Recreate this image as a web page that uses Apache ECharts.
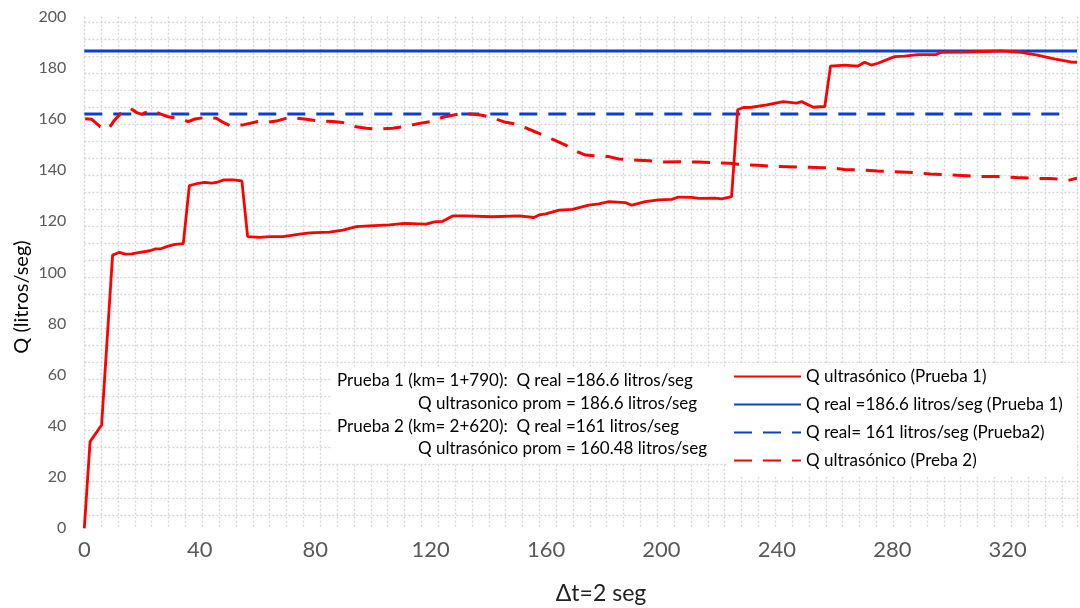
<!DOCTYPE html>
<html>
<head>
<meta charset="utf-8">
<script src="https://cdn.jsdelivr.net/npm/echarts@6/dist/echarts.min.js"></script>
<style>
html, body { margin: 0; padding: 0; background: #fff; }
#chart { width: 1080px; height: 608px; }
</style>
</head>
<body>
<div id="chart"></div>
<script>
// Prueba 1 - Q ultrasonico (linea roja continua)
var prueba1X = [0, 2.0, 6.0, 9.8, 12.2, 14.2, 16.5, 18.2, 22.8, 24.5, 26.3, 28.8, 31.4, 34.3, 36.4,
	38.9, 41.8, 44.1, 45.8, 48.4, 51.6, 54.6, 56.6, 60.8, 64.3, 68.9, 74.6, 78.1, 85.0, 89.6,
	94.2, 98.8, 105.7, 110.9, 118.4, 121.3, 124.2, 127.6, 132.2, 141.4, 150.7, 155.8, 157.6, 159.9, 164.5,
	169.1, 174.8, 178.3, 181.8, 187.5, 189.8, 194.4, 199.0, 203.6, 205.9, 210.5, 212.9, 218.6, 220.9, 224.3,
	226.4, 228.4, 231.3, 236.5, 242.2, 246.8, 248.6, 252.6, 256.6, 258.6, 263.5, 268.1, 270.4, 272.7, 275.0,
	280.8, 284.3, 288.9, 295.2, 296.9, 306.2, 317.7, 324.6, 330.3, 336.1, 341.8, 344];
var prueba1Y = [0, 33.9, 40.4, 106.8, 107.9, 107.2, 107.3, 107.7, 108.5, 109.2, 109.2, 110.2, 111.0, 111.3, 134.0,
	134.7, 135.2, 134.9, 135.2, 136.2, 136.2, 135.8, 114.0, 113.7, 114.0, 114.0, 115.0, 115.5, 115.8, 116.6,
	117.9, 118.2, 118.6, 119.2, 118.9, 119.8, 120.0, 122.1, 122.1, 121.8, 122.1, 121.5, 122.5, 122.9, 124.4,
	124.7, 126.3, 126.8, 127.7, 127.3, 126.3, 127.7, 128.4, 128.6, 129.5, 129.4, 129.0, 129.1, 128.8, 129.7,
	163.6, 164.5, 164.6, 165.5, 166.8, 166.2, 166.8, 164.6, 164.9, 180.7, 181.1, 180.7, 182.2, 181.1, 181.8,
	184.4, 184.6, 185.2, 185.2, 186.1, 186.2, 186.6, 186.1, 185.0, 183.5, 182.3, 182.2];

// Prueba 2 - Q ultrasonico (linea roja discontinua)
var prueba2X = [0.3, 2.6, 5.5, 8.4, 10.1, 12.4, 15.9, 18.2, 19.9, 21.1, 23.4, 26.3, 29.1, 33.2, 36.0,
	38.3, 42.4, 45.8, 47.6, 50.4, 55.0, 60.2, 63.1, 66.6, 71.2, 76.9, 81.5, 86.1, 89.6, 94.2,
	97.7, 101.1, 106.9, 110.9, 116.1, 120.2, 124.2, 129.9, 133.9, 137.9, 141.4, 146.0, 149.5, 154.1, 157.6,
	162.2, 166.8, 170.2, 173.7, 178.3, 181.8, 185.2, 189.8, 195.6, 200.2, 207.1, 212.9, 218.6, 223.8, 226.6,
	233.5, 240.4, 247.3, 254.2, 258.8, 263.4, 268.0, 274.9, 280.6, 288.6, 293.2, 300.1, 308.2, 311.6, 317.4,
	323.1, 330.0, 334.6, 337.0, 341.0, 344];
var prueba2Y = [160.1, 159.9, 157.0, 156.1, 159.0, 162.0, 164.2, 162.5, 161.8, 162.5, 163.3, 162.0, 160.9, 160.1, 159.0,
	160.0, 160.7, 160.3, 159.0, 157.5, 157.7, 159.0, 158.7, 159.2, 160.7, 159.9, 159.2, 159.0, 158.6, 157.0,
	156.4, 156.0, 156.4, 157.0, 158.3, 159.0, 160.7, 162.0, 162.0, 161.5, 160.5, 158.7, 158.1, 156.0, 154.4,
	152.1, 149.8, 147.5, 145.9, 145.5, 145.3, 144.4, 144.0, 143.7, 143.2, 143.3, 143.2, 142.9, 142.7, 142.3,
	141.9, 141.4, 141.2, 141.0, 140.9, 140.3, 140.1, 139.7, 139.4, 139.0, 138.5, 138.2, 137.7, 137.5, 137.5,
	137.1, 136.8, 136.7, 136.6, 136.0, 136.9];

// Q real de cada prueba (lineas azules)
var qReal1 = 186.6;
var qReal2 = 162;
var xRange = [0, 344];
var realEnd = 341;

var seriesNames = ['Q ultrasónico (Prueba 1)', 'Q real =186.6 litros/seg (Prueba 1)',
	'Q real= 161 litros/seg (Prueba2)', 'Q ultrasónico (Preba 2)'];

var notes = ['Prueba 1 (km= 1+790):  Q real =186.6 litros/seg',
	'Q ultrasonico prom = 186.6 litros/seg',
	'Prueba 2 (km= 2+620):  Q real =161 litros/seg',
	'Q ultrasónico prom = 160.48 litros/seg'];

function pairs(xs, ys) {
	return xs.map(function(x, i) { return [x, ys[i]]; });
}

var FONT = 'Lato, "Noto Sans", sans-serif';
var RED = '#ff0000';
var BLUE = '#0b3fd0';
var GRIDLINE = { color: '#d6d6d6', width: 1.4, type: [2, 2] };
var NOTE_FONT = '17px ' + FONT;

var chart = echarts.init(document.getElementById('chart'));

chart.setOption({
	animation: false,
	textStyle: { fontFamily: FONT },
	grid: [
		{ left: 84.3, right: 0, top: 16.7, bottom: 79.7 },
		// solo para la cuadricula horizontal punteada
		{ left: 84.3, right: 0, top: 22.7, height: 492.6 }
	],
	xAxis: [{
		type: 'value',
		gridIndex: 0,
		min: xRange[0],
		max: xRange[1],
		interval: 40,
		axisLine: { show: false },
		axisTick: { show: false },
		splitLine: { show: false },
		axisLabel: {
			margin: 11,
			fontSize: 22,
			color: '#595959',
			fontFamily: FONT,
			formatter: function(v) { return v % 40 === 0 ? v : ''; }
		}
	}, {
		type: 'value',
		gridIndex: 0,
		min: xRange[0],
		max: xRange[1],
		interval: 5.84,
		axisLine: { show: false },
		axisTick: { show: false },
		axisLabel: { show: false },
		splitLine: { show: true, lineStyle: GRIDLINE }
	}, {
		type: 'value',
		gridIndex: 1,
		min: 0,
		max: 1,
		show: false
	}],
	yAxis: [{
		type: 'value',
		gridIndex: 0,
		min: 0,
		max: 200,
		interval: 20,
		axisLine: { show: false },
		axisTick: { show: false },
		splitLine: { show: false },
		axisLabel: { margin: 18, fontSize: 16, color: '#595959', fontFamily: FONT }
	}, {
		type: 'value',
		gridIndex: 1,
		min: 0,
		max: 29,
		interval: 1,
		axisLine: { show: false },
		axisTick: { show: false },
		axisLabel: { show: false },
		splitLine: { show: true, lineStyle: GRIDLINE }
	}],
	legend: {
		orient: 'vertical',
		left: 728,
		top: 363,
		padding: [5, 14, 8, 5],
		itemWidth: 67,
		itemHeight: 17,
		itemGap: 11,
		backgroundColor: '#fff',
		itemStyle: { opacity: 0 },
		data: seriesNames,
		textStyle: { fontSize: 17, lineHeight: 17, color: '#000', fontFamily: FONT, padding: [0, 0, 0, 0] }
	},
	graphic: [
		{ type: 'rect', left: 332, top: 367, z: 5, shape: { width: 396, height: 96 }, style: { fill: '#fff' } },
		{ type: 'text', x: 337, y: 381, z: 6, style: { text: notes[0], font: NOTE_FONT, fill: '#000', verticalAlign: 'middle' } },
		{ type: 'text', x: 418, y: 403.5, z: 6, style: { text: notes[1], font: NOTE_FONT, fill: '#000', verticalAlign: 'middle' } },
		{ type: 'text', x: 337, y: 427, z: 6, style: { text: notes[2], font: NOTE_FONT, fill: '#000', verticalAlign: 'middle' } },
		{ type: 'text', x: 418, y: 448.5, z: 6, style: { text: notes[3], font: NOTE_FONT, fill: '#000', verticalAlign: 'middle' } },
		{ type: 'text', x: 22, y: 297, rotation: Math.PI / 2, z: 6,
			style: { text: 'Q (litros/seg)', font: '20px ' + FONT, fill: '#000', align: 'center', verticalAlign: 'middle' } },
		{ type: 'text', x: 601, y: 594, z: 6,
			style: { text: 'Δt=2 seg', font: '23px ' + FONT, fill: '#222', align: 'center', verticalAlign: 'middle' } }
	],
	series: [{
		name: seriesNames[0],
		type: 'line',
		symbol: 'none',
		z: 4,
		lineStyle: { color: RED, width: 2.8 },
		itemStyle: { color: RED },
		data: pairs(prueba1X, prueba1Y)
	}, {
		name: seriesNames[1],
		type: 'line',
		symbol: 'none',
		z: 3,
		lineStyle: { color: BLUE, width: 2.8 },
		itemStyle: { color: BLUE },
		data: [[xRange[0], qReal1], [xRange[1], qReal1]]
	}, {
		name: seriesNames[2],
		type: 'line',
		symbol: 'none',
		z: 3,
		lineStyle: { color: BLUE, width: 3, type: [18, 11] },
		itemStyle: { color: BLUE },
		data: [[xRange[0], qReal2], [realEnd, qReal2]]
	}, {
		name: seriesNames[3],
		type: 'line',
		symbol: 'none',
		z: 3,
		lineStyle: { color: RED, width: 3, type: [18, 11] },
		itemStyle: { color: RED },
		data: pairs(prueba2X, prueba2Y)
	}]
});
</script>
</body>
</html>
